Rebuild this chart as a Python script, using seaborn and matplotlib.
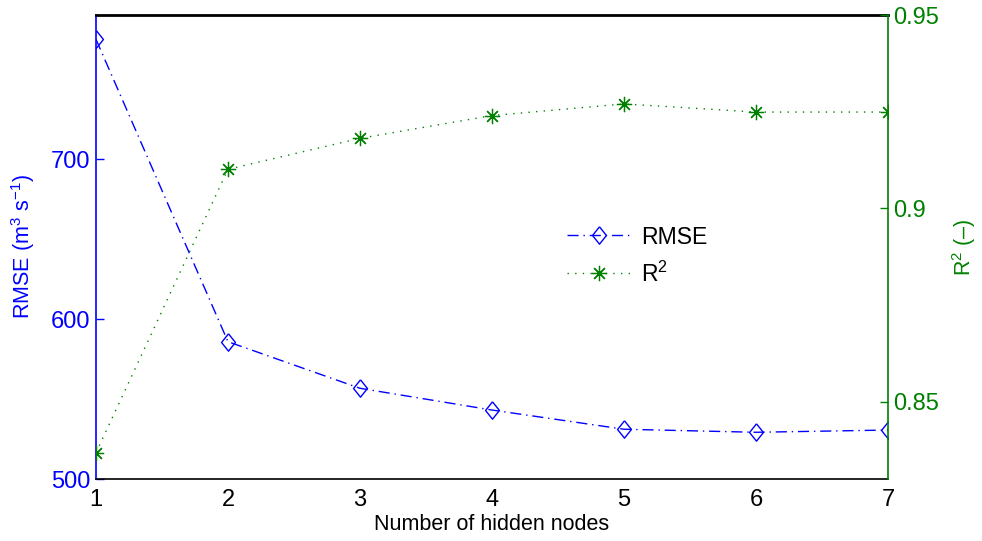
import numpy as np
import pandas as pd
import matplotlib
matplotlib.use("Agg")
import matplotlib.pyplot as plt
import seaborn as sns

# ---- data ----
hidden_nodes = [1, 2, 3, 4, 5, 6, 7]
rmse = [774.8, 585.8, 556.7, 543.1, 531.1, 529.2, 530.6]
r2 = [0.8368, 0.9101, 0.9181, 0.9240, 0.9270, 0.9249, 0.9249]
left_ticks = [500, 600, 700]
left_tick_labels = ["500", "600", "700"]
right_ticks = [0.85, 0.9, 0.95]
right_tick_labels = ["0.85", "0.9", "0.95"]
x_ticks = [1, 2, 3, 4, 5, 6, 7]

sns.set_style("white")
plt.rcParams['font.family'] = ['Liberation Sans', 'DejaVu Sans']
plt.rcParams['mathtext.fontset'] = 'custom'
plt.rcParams['mathtext.rm'] = 'Liberation Sans'
plt.rcParams['mathtext.it'] = 'Liberation Sans'
plt.rcParams['text.color'] = 'black'
plt.rcParams['axes.labelcolor'] = 'black'
plt.rcParams['xtick.color'] = 'black'

BLUE = (0, 0, 1)
GREEN = (0, 0.5, 0)
TICK_FS = 17
LABEL_FS = 15.5
LEG_FS = 16.6

diamond = [(0, 1), (0.8, 0), (0, -1), (-0.8, 0), (0, 1)]

df = pd.DataFrame({"nodes": hidden_nodes, "RMSE": rmse, "R2": r2})

fig = plt.figure(figsize=(9.82, 5.41), dpi=100)
ax = fig.add_axes([96/982, 62/541, (888-96)/982, (479-15)/541])
ax2 = ax.twinx()

sns.lineplot(data=df, x="nodes", y="RMSE", ax=ax, color=BLUE,
             dashes=False, linestyle=(0, (8, 3.5, 1, 3.5)),
             linewidth=1.0, marker=diamond, markersize=12.5, markerfacecolor='none',
             markeredgecolor=BLUE, markeredgewidth=1.0, label="RMSE", legend=False)
sns.lineplot(data=df, x="nodes", y="R2", ax=ax2, color=GREEN,
             dashes=False, linestyle=(0, (1, 4.5)),
             linewidth=1.0, marker=(8, 2, 0), markersize=11,
             markeredgecolor=GREEN, markeredgewidth=0.9, label="R$^2$", legend=False)

ax.set_xlim(1, 7)
ax.set_ylim(500, 790)
ax2.set_ylim(0.83, 0.95)

ax.set_xticks(x_ticks)
ax.set_xticklabels([str(v) for v in x_ticks], fontsize=TICK_FS, color='black')
ax.set_yticks(left_ticks)
ax.set_yticklabels(left_tick_labels, fontsize=TICK_FS, color=BLUE)
ax2.set_yticks(right_ticks)
ax2.set_yticklabels(right_tick_labels, fontsize=TICK_FS, color=GREEN)

ax.tick_params(axis='x', direction='in', length=6, width=1, colors='black', pad=7)
ax.tick_params(axis='y', direction='in', length=6, width=1, colors=BLUE, pad=4)
ax2.tick_params(axis='y', direction='in', length=6, width=1, colors=GREEN, pad=4)

for a in (ax, ax2):
    for s in a.spines.values():
        s.set_linewidth(1.2)
ax.spines['left'].set_color(BLUE)
ax.spines['right'].set_visible(False)
ax.spines['top'].set_color('black')
ax.spines['top'].set_linewidth(2.0)
ax.spines['bottom'].set_color('black')
ax2.spines['left'].set_visible(False)
ax2.spines['top'].set_visible(False)
ax2.spines['bottom'].set_visible(False)
ax2.spines['right'].set_color(GREEN)

ax.set_xlabel("Number of hidden nodes", fontsize=LABEL_FS, labelpad=2, color='black')
ax.set_ylabel("RMSE (m$^3$ s$^{-1}$)", fontsize=LABEL_FS, color=BLUE, labelpad=10)
ax2.set_ylabel("R$^2$ (–)", fontsize=LABEL_FS, color=GREEN, labelpad=8)

h1, l1 = ax.get_legend_handles_labels()
h2, l2 = ax2.get_legend_handles_labels()
leg = fig.legend(h1 + h2, l1 + l2, loc='center left', bbox_to_anchor=(567/982, 1-256/541),
                 frameon=False, fontsize=LEG_FS, handlelength=2.8, handletextpad=0.4,
                 labelspacing=0.55, borderpad=0, borderaxespad=0)
for t in leg.get_texts():
    t.set_color('black')

fig.savefig("out.png", dpi=100)
